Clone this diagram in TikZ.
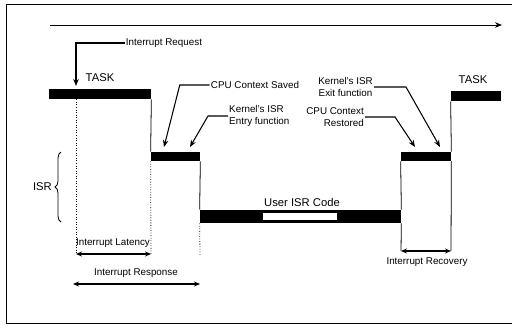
\documentclass[tikz,border=0pt]{standalone}
\usepackage{fontspec}
\setmainfont{Liberation Sans}
\usetikzlibrary{arrows.meta, positioning, calc, fit, decorations.pathreplacing}
\tikzset{
  bar/.style={rectangle, fill=black, inner sep=0pt},
  gap/.style={rectangle, fill=white, inner sep=0pt},
  lbl/.style={font=\fontsize{5.6}{6.6}\selectfont, inner sep=0.5pt},
  big/.style={font=\fontsize{6.4}{7.2}\selectfont, inner sep=0.5pt},
  rail/.style={line width=0.45pt},
  guide/.style={line width=0.45pt, densely dotted},
  ptr/.style={-{Stealth[length=1.4mm, width=1.1mm]}, line width=0.6pt},
  span/.style={{Stealth[length=1.2mm, width=1mm]}-{Stealth[length=1.2mm, width=1mm]},
               line width=0.6pt}
}
\begin{document}
\begin{tikzpicture}[x=0.02cm, y=-0.02cm]
  \useasboundingbox (0,0) rectangle (514,332);
  % frame and time axis
  \draw[rail] (512,4) -- (6,4) -- (6,323) -- (512,323);
  \coordinate (t0) at (50,25);
  \coordinate (t1) at (502,25);
  \draw[ptr, line width=0.5pt] (t0) -- (t1);

  % execution bars
  \node[bar, fit={(49,89) (151,99)}] (taskA) {};
  \node[bar, fit={(151,152) (200,161)}] (kentry) {};
  \node[bar, fit={(200,210) (401,223)}] (usercode) {};
  \node[gap, fit={(263,213) (337,220)}] (userin) {};
  \node[bar, fit={(401,152) (451,161)}] (kexit) {};
  \node[bar, fit={(451,91) (501,101)}] (taskB) {};

  % steps between bars
  \draw[rail] (taskA.south east) -- (kentry.north west);
  \draw[rail] (kentry.south east) -- (usercode.north west);
  \draw[rail] (usercode.north east) -- (kexit.south west);
  \draw[rail] (kexit.north east) -- (taskB.south west);

  % time marks
  \coordinate (la) at (76,254);
  \coordinate (lb) at (151,254);
  \coordinate (ra) at (73,284);
  \coordinate (rb) at (200,284);
  \coordinate (ca) at (401,251);
  \coordinate (cb) at (451,251);
  \draw[guide] (taskA.south -| la) -- (la);
  \draw[guide] (kentry.south west) -- (lb);
  \draw[guide] (usercode.south west) -- (200,255);
  \draw[rail] (usercode.south east) -- (ca);
  \draw[rail] (kexit.south east) -- (cb);
  \draw[span] (la) -- (lb);
  \draw[span] (ra) -- (rb);
  \draw[span] (ca) -- (cb);

  % labels
  \node[big] (taskAl) at (100,78) {TASK};
  \node[big] (taskBl) at (473,80) {TASK};
  \node[lbl] (req) at (164,43) {Interrupt Request};
  \node[lbl] (saved) at (255,85) {CPU Context Saved};
  \node[lbl, anchor=west, align=left] (entry) at (228,116) {Kernel's ISR\\Entry function};
  \node[lbl, anchor=east, align=center] (exitfn) at (374,87) {Kernel's ISR\\Exit function};
  \node[lbl, anchor=east, align=right] (restored) at (365,117) {CPU Context\\Restored};
  \node[big] (user) at (302,202) {User ISR Code};
  \node[big, anchor=east] (isr) at (53,187) {ISR};
  \node[lbl] (latency) at (113,243) {Interrupt Latency};
  \node[lbl] (response) at (136,273) {Interrupt Response};
  \node[lbl] (recovery) at (427,262) {Interrupt Recovery};

  % pointers
  \coordinate (irq) at (76,86);
  \coordinate (cs) at (164,147);
  \coordinate (ke) at (190,147);
  \coordinate (cr) at (415,147);
  \coordinate (kx) at (440,147);
  \draw[ptr] (req.west) -| (irq);
  \draw[ptr] (saved.west) -- ++(-30,0) -- (cs);
  \draw[ptr] (entry.west) -- ++(-20,0) -- (ke);
  \draw[ptr] (restored.east) -- ++(30,0) -- (cr);
  \draw[ptr] (exitfn.east) -- ++(32,0) -- (kx);

  % ISR brace
  \draw[rail, decorate, decoration={brace, amplitude=0.12cm}] (61,222) -- (61,152);
\end{tikzpicture}
\end{document}
